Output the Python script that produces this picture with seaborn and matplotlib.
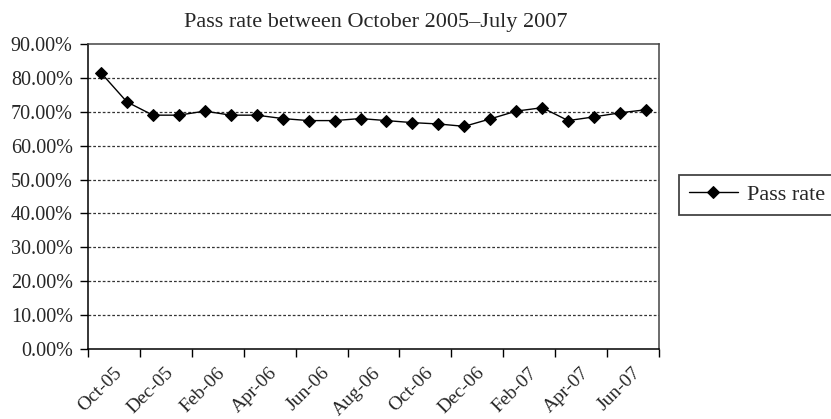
import numpy as np
import pandas as pd
import matplotlib
matplotlib.use('Agg')
import matplotlib.pyplot as plt
import matplotlib.transforms as mtransforms
from matplotlib.ticker import PercentFormatter, FixedLocator
import seaborn as sns

months = ['Oct-05', 'Nov-05', 'Dec-05', 'Jan-06', 'Feb-06', 'Mar-06', 'Apr-06', 'May-06',
          'Jun-06', 'Jul-06', 'Aug-06', 'Sep-06', 'Oct-06', 'Nov-06', 'Dec-06', 'Jan-07',
          'Feb-07', 'Mar-07', 'Apr-07', 'May-07', 'Jun-07', 'Jul-07']
pass_rate = [81.5, 72.9, 69.0, 69.0, 70.2, 69.0, 69.0, 68.0, 67.4, 67.4, 68.0, 67.4,
             66.8, 66.4, 65.7, 67.9, 70.2, 71.2, 67.4, 68.5, 69.7, 70.6]
y_ticks = [0, 10, 20, 30, 40, 50, 60, 70, 80, 90]

df = pd.DataFrame({'pos': np.arange(len(months)), 'month': months, 'Pass rate': pass_rate})

sns.set_theme(style='white')
plt.rcParams['font.family'] = ['Liberation Serif', 'DejaVu Serif']

fig = plt.figure(figsize=(8.31, 4.19), dpi=100)
ax = fig.add_axes([88/831, 1-349/419, (659-88)/831, (349-44)/419])

sns.lineplot(data=df, x='pos', y='Pass rate', ax=ax, color='black', linewidth=1.0,
             marker='D', markersize=6.5, markeredgecolor='black', label='Pass rate')

ax.set_xlim(-0.5, len(months) - 0.5)
ax.set_ylim(0, 90)
ax.set_yticks(y_ticks)
ax.yaxis.set_major_formatter(PercentFormatter(xmax=100, decimals=2))
for v in y_ticks[1:-1]:
    ax.axhline(v, color='#333333', linewidth=0.9, linestyle=(0, (2.2, 1.6)), zorder=0)

# tick marks on category boundaries, labels on every other category
ax.xaxis.set_major_locator(FixedLocator(np.arange(-0.5, len(months), 2)))
ax.set_xticklabels([])
ax.xaxis.set_minor_locator(FixedLocator(np.arange(0, len(months), 2)))
ax.set_xticklabels(months[::2], minor=True, rotation=45, ha='right', va='top')
ax.tick_params(axis='x', which='major', direction='out', length=6, width=1, color='black', bottom=True)
ax.tick_params(axis='x', which='minor', length=0, pad=11, labelsize=14)
ax.tick_params(axis='y', direction='out', length=6, width=1, color='black', left=True, pad=5, labelsize=14.5)
offset = mtransforms.ScaledTranslation(24/100, 0, fig.dpi_scale_trans)
for lab in ax.get_xticklabels(minor=True):
    lab.set_transform(lab.get_transform() + offset)

ax.set_xlabel('')
ax.set_ylabel('')
for side in ['left', 'bottom']:
    ax.spines[side].set_color('black')
    ax.spines[side].set_linewidth(1.1)
for side in ['top', 'right']:
    ax.spines[side].set_color('#444444')
    ax.spines[side].set_linewidth(1.1)

fig.text(376/831, 1-27/419, 'Pass rate between October 2005\u2013July 2007',
         ha='center', va='baseline', fontsize=16)

ax.legend(loc='center left', bbox_to_anchor=(679/831, 1-195/419), bbox_transform=fig.transFigure,
          fontsize=16, frameon=True, fancybox=False, edgecolor='#444444', framealpha=1,
          handlelength=2.2, handletextpad=0.4, borderpad=0.45, borderaxespad=0)
ax.get_legend().get_frame().set_linewidth(1.3)

fig.savefig('out.png', dpi=100)
